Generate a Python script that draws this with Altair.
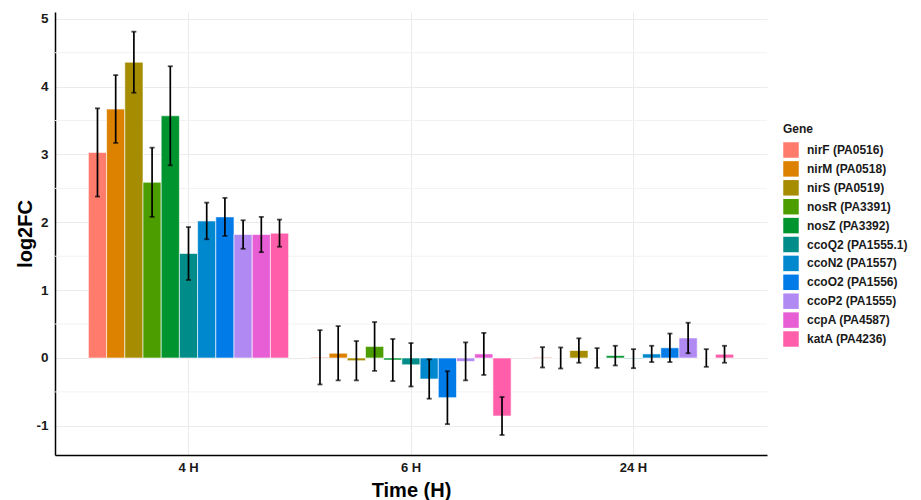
import altair as alt
import pandas as pd

genes = ["nirF (PA0516)", "nirM (PA0518)", "nirS (PA0519)", "nosR (PA3391)",
         "nosZ (PA3392)", "ccoQ2 (PA1555.1)", "ccoN2 (PA1557)", "ccoO2 (PA1556)",
         "ccoP2 (PA1555)", "ccpA (PA4587)", "katA (PA4236)"]
colors = ["#FF7B6B", "#DD8200", "#A68C00", "#4C9E00", "#00942F", "#008C88",
          "#0088CF", "#007BE8", "#B189F2", "#E85ED5", "#FF5FAA"]
times = ["4 H", "6 H", "24 H"]

mean_4h = [3.03, 3.67, 4.36, 2.59, 3.57, 1.54, 2.02, 2.08, 1.82, 1.82, 1.84]
err_4h = [0.65, 0.50, 0.45, 0.51, 0.73, 0.39, 0.27, 0.28, 0.21, 0.26, 0.20]
mean_6h = [0.01, 0.07, -0.04, 0.17, -0.03, -0.10, -0.31, -0.585, -0.05, 0.06, -0.855]
err_6h = [0.40, 0.40, 0.29, 0.36, 0.31, 0.32, 0.29, 0.39, 0.28, 0.31, 0.28]
mean_24h = [0.01, 0.00, 0.11, 0.00, 0.035, -0.01, 0.06, 0.15, 0.295, 0.00, 0.055]
err_24h = [0.15, 0.155, 0.18, 0.145, 0.145, 0.14, 0.12, 0.21, 0.225, 0.13, 0.125]

rows = []
for t, ms, es in zip(times, [mean_4h, mean_6h, mean_24h], [err_4h, err_6h, err_24h]):
    for g, m, e in zip(genes, ms, es):
        rows.append({"Time": t, "Gene": g, "log2FC": m, "lo": m - e, "hi": m + e})
df = pd.DataFrame(rows)

FONT = "Liberation Sans"

x_enc = alt.X("Time:N", sort=times,
              scale=alt.Scale(paddingInner=0.1, paddingOuter=0.15),
              axis=alt.Axis(title="Time (H)", labelAngle=0, labelFontSize=13,
                            labelFontWeight="bold", labelColor="#1a1a1a",
                            titleFontSize=20, titleFontWeight="bold",
                            titlePadding=6, labelPadding=6, ticks=False,
                            domainColor="#000000", domainWidth=1.5,
                            grid=True, gridColor="#ebebeb", gridWidth=1))
xo_enc = alt.XOffset("Gene:N", sort=genes, scale=alt.Scale(paddingInner=0, paddingOuter=0))
y_scale = alt.Scale(domain=[-1.43, 5.10], nice=False, zero=False)

base = alt.Chart(df).encode(x=x_enc, xOffset=xo_enc)

bars = base.mark_bar(stroke="white", strokeWidth=0.6).encode(
    y=alt.Y("log2FC:Q", scale=y_scale,
            axis=alt.Axis(title="log2FC", values=[-1, 0, 1, 2, 3, 4, 5],
                          labelExpr="'' + datum.value",
                          labelFontSize=13.5, labelFontWeight="bold",
                          labelColor="#1a1a1a", titleFontSize=20,
                          titleFontWeight="bold", titlePadding=0,
                          labelPadding=7, ticks=False, domainColor="#000000",
                          domainWidth=1.5, gridColor="#ebebeb", gridWidth=1)),
    y2=alt.datum(0),
    color=alt.Color("Gene:N", sort=genes,
                    scale=alt.Scale(domain=genes, range=colors),
                    legend=alt.Legend(title="Gene", orient="none", legendX=728,
                                      legendY=112, symbolType="square",
                                      symbolSize=240, symbolStrokeWidth=0,
                                      titleFontSize=12, titleFontWeight="bold",
                                      labelFontSize=12, labelFontWeight="bold",
                                      labelColor="#1a1a1a", titleColor="#1a1a1a",
                                      rowPadding=2.9, labelOffset=8,
                                      titlePadding=6, labelLimit=200)),
)

minor = alt.Chart(pd.DataFrame({"v": [-0.5, 0.5, 1.5, 2.5, 3.5, 4.5]})).mark_rule(
    color="#f2f2f2", strokeWidth=1).encode(y=alt.Y("v:Q", scale=y_scale))

rules = base.mark_rule(color="black", strokeWidth=1.7).encode(
    y=alt.Y("lo:Q", scale=y_scale), y2="hi:Q")
cap_lo = base.mark_tick(color="black", size=5, thickness=1.8).encode(
    y=alt.Y("lo:Q", scale=y_scale))
cap_hi = base.mark_tick(color="black", size=5, thickness=1.8).encode(
    y=alt.Y("hi:Q", scale=y_scale))

chart = alt.layer(minor, bars, rules, cap_lo, cap_hi).properties(
    width=712, height=443,
    autosize=alt.AutoSizeParams(type="none"),
    padding={"left": 55, "top": 12, "right": 154, "bottom": 45},
).configure(font=FONT).configure_view(stroke=None).configure_axis(
    labelFont=FONT, titleFont=FONT).configure_legend(labelFont=FONT, titleFont=FONT)

chart.save("out.html", embed_options={"renderer": "svg", "actions": False})
